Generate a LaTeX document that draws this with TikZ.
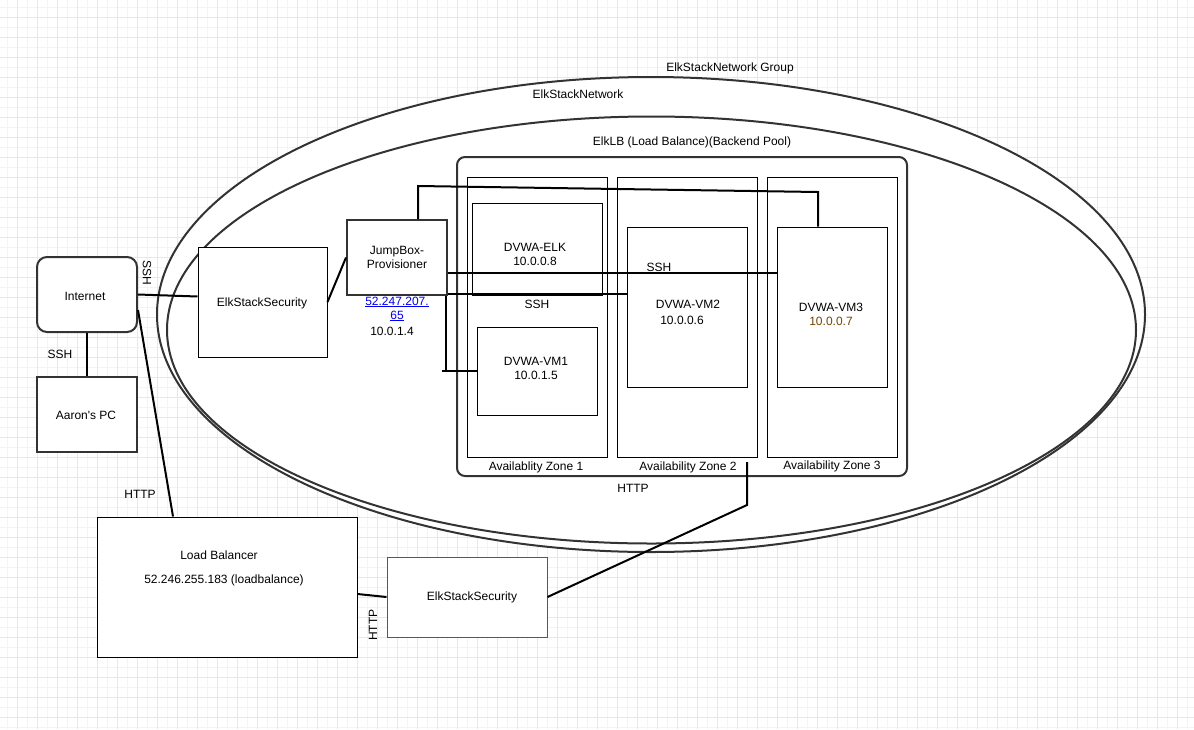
\documentclass[tikz,border=0pt]{standalone}
\usepackage{fontspec}
\setmainfont{Liberation Sans}
\usetikzlibrary{calc}
\definecolor{gridw}{HTML}{F4F3FB}
\definecolor{grids}{HTML}{E8E5F7}
\definecolor{dk}{HTML}{333333}
\definecolor{bluebox}{HTML}{2B5CB8}
\definecolor{linkblue}{HTML}{0000EE}
\definecolor{brownseven}{HTML}{6E4600}
\begin{document}
\begin{tikzpicture}[x=1pt,y=-1pt, font=\fontsize{12}{14}\selectfont,
 box/.style={draw=black, line width=1pt, fill=white, inner sep=0pt},
 thickbox/.style={draw=dk, line width=2pt, fill=white, inner sep=0pt},
 bluebx/.style={draw=bluebox, line width=1pt, fill=white, inner sep=0pt},
 conn/.style={draw=black, line width=2pt},
 lbl/.style={inner sep=0pt, align=center},
 ring/.style={draw=dk, line width=2pt, fill=white}]
\useasboundingbox (0,0) rectangle (1194,729);
\fill[white] (0,0) rectangle (1194,729);
% grid
\foreach \g in {7,17,...,1194} \draw[gridw, line width=1pt] (\g,0) -- (\g,729);
\foreach \g in {7,17,...,729} \draw[gridw, line width=1pt] (0,\g) -- (1194,\g);
\foreach \g in {17,37,...,1194} \draw[grids, line width=1pt] (\g,0) -- (\g,729);
\foreach \g in {17,37,...,729} \draw[grids, line width=1pt] (0,\g) -- (1194,\g);
% network ellipses
\draw[ring] (651,314.5) ellipse [x radius=494, y radius=237.5];
\draw[ring] (651.5,330) ellipse [x radius=484.5, y radius=213.5];
% backend pool
\node[thickbox, rounded corners=8pt, minimum width=450pt, minimum height=319pt] (elklb) at (682,316.5) {};
\node[box, minimum width=140pt, minimum height=280pt] (z1) at (537,317) {};
\node[box, minimum width=140pt, minimum height=280pt] (z2) at (687,317) {};
\node[box, minimum width=130pt, minimum height=280pt] (z3) at (832,317) {};
\node[box, minimum width=130pt, minimum height=92pt] (elk) at (537,249) {};
\node[box, minimum width=120pt, minimum height=88pt] (vm1) at (537,371) {};
\node[box, minimum width=120pt, minimum height=160pt] (vm2) at (687,307) {};
\node[box, minimum width=110pt, minimum height=160pt] (vm3) at (832,307) {};
% left side
\node[thickbox, rounded corners=10pt, minimum width=100pt, minimum height=75pt] (internet) at (87,294.5) {};
\node[thickbox, minimum width=100pt, minimum height=75pt] (aaron) at (87,414.5) {};
\node[box, minimum width=129pt, minimum height=110pt] (ess1) at (262.5,302) {};
\node[thickbox, minimum width=100pt, minimum height=75pt] (jump) at (397,257.5) {};
\node[box, minimum width=260pt, minimum height=140pt] (lb) at (227,587) {};
\node[bluebx, minimum width=160pt, minimum height=80pt] (ess2) at (467,597) {};
% helper coordinates
\coordinate (j1) at (418,186);
\coordinate (j2) at (818,192);
\coordinate (s2) at (0,273);
\coordinate (s1) at (0,294);
\coordinate (j3) at (446,371);
\coordinate (j4) at (442,371);
\coordinate (i1) at (0,310);
\coordinate (l1) at (173,0);
\coordinate (l2) at (0,594);
\coordinate (h1) at (747,505);
\coordinate (h2) at (747,462);
% connectors
\draw[conn] (internet.east) -- ([yshift=-2pt]ess1.west |- internet.east);
\draw[conn] (ess1.east) -- (jump.west);
\draw[conn] (jump.north -| j1) -- (j1) -- (j2) -- (vm3.north -| j2);
\draw[conn] (jump.east |- s2) -- (vm3.west |- s2);
\draw[conn] (jump.east |- s1) -- (vm2.west |- s1);
\draw[conn] (jump.south -| j3) -- (j3);
\draw[conn] (j4) -- (vm1.west);
\draw[conn] (internet.south) -- (aaron.north);
\draw[conn] (internet.east |- i1) -- (lb.north -| l1);
\draw[conn] (lb.east |- l2) -- (ess2.west);
\draw[conn] (ess2.east) -- (h1) -- (h2);
% labels
\node[lbl] (tgroup) at (730,68) {ElkStackNetwork Group};
\node[lbl] (tnet) at (578,94) {ElkStackNetwork};
\node[lbl] (tlb) at (692,142) {ElkLB (Load Balance)(Backend Pool)};
\node[lbl] (tinternet) at (85,296) {Internet};
\node[lbl, rotate=-90] (tssh1) at (147,273) {SSH};
\node[lbl] (tssh2) at (60,354) {SSH};
\node[lbl] (taaron) at (86,415) {Aaron\textquotesingle s PC};
\node[lbl] (tess1) at (262,303) {ElkStackSecurity};
\node[lbl] (tjump) at (397,257) {JumpBox-\\Provisioner};
\node[lbl, text=linkblue] (tip) at (397,309) {\underline{52.247.207.}\\\underline{65}};
\node[lbl] (tjip) at (392,331) {10.0.1.4};
\node[lbl] (telk) at (535,254) {DVWA-ELK\\10.0.0.8};
\node[lbl] (tssh3) at (537,304) {SSH};
\node[lbl] (tvm1) at (536,368) {DVWA-VM1\\10.0.1.5};
\node[lbl] (tssh4) at (659,267) {SSH};
\node[lbl] (tvm2) at (688,304) {DVWA-VM2};
\node[lbl] (tvm2ip) at (682,320) {10.0.0.6};
\node[lbl] (tvm3) at (831,307) {DVWA-VM3};
\node[lbl, text=brownseven] (tvm3ip) at (831,321) {10.0.0.7};
\node[lbl] (tz1) at (536,467) {Availablity Zone 1};
\node[lbl] (tz2) at (688,467) {Availability Zone 2};
\node[lbl] (tz3) at (832,466) {Availability Zone 3};
\node[lbl] (thttp1) at (633,488) {HTTP};
\node[lbl] (thttp2) at (140,494) {HTTP};
\node[lbl] (tlbname) at (219,555) {Load Balancer};
\node[lbl] (tlbip) at (224,580) {52.246.255.183 (loadbalance)};
\node[lbl] (tess2) at (472,597) {ElkStackSecurity};
\node[lbl, rotate=90] (thttp3) at (373,625) {HTTP};
\end{tikzpicture}
\end{document}
